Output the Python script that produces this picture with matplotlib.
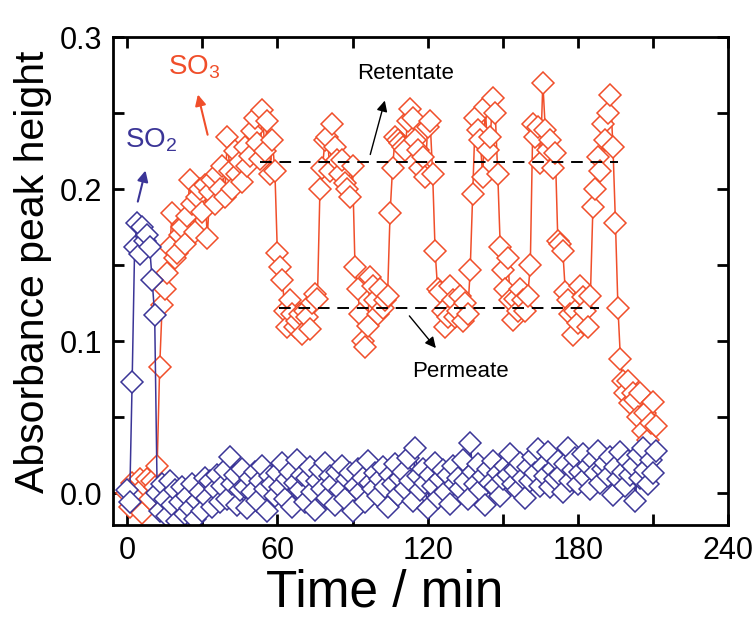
import numpy as np
import matplotlib
matplotlib.use("Agg")
import matplotlib.pyplot as plt

plt.rcParams['font.family'] = ['Liberation Sans', 'DejaVu Sans']
plt.rcParams['mathtext.default'] = 'regular'

# absorbance peak heights, one reading per minute
so3_abs = [
    0.000, -0.009, 0.007, 0.002, -0.003, 0.009, -0.013, 0.005, 0.009, -0.004,
    0.008, 0.004, 0.018, 0.083, 0.124, 0.134, 0.145, 0.162, 0.184, 0.155,
    0.158, 0.170, 0.175, 0.164, 0.182, 0.206, 0.190, 0.172, 0.195, 0.200,
    0.185, 0.203, 0.168, 0.198, 0.206, 0.190, 0.210, 0.200, 0.215, 0.195,
    0.234, 0.212, 0.200, 0.225, 0.210, 0.218, 0.205, 0.228, 0.215, 0.222,
    0.238, 0.247, 0.230, 0.220, 0.252, 0.225, 0.245, 0.210, 0.232, 0.212,
    0.158, 0.149, 0.140, 0.120, 0.109, 0.127, 0.118, 0.109, 0.113, 0.118,
    0.105, 0.120, 0.116, 0.108, 0.125, 0.131, 0.128, 0.200, 0.214, 0.232,
    0.234, 0.212, 0.243, 0.228, 0.219, 0.210, 0.219, 0.204, 0.200, 0.195,
    0.215, 0.149, 0.134, 0.118, 0.100, 0.096, 0.110, 0.142, 0.136, 0.127,
    0.118, 0.134, 0.122, 0.127, 0.130, 0.184, 0.214, 0.234, 0.232, 0.230,
    0.228, 0.226, 0.245, 0.253, 0.247, 0.232, 0.226, 0.214, 0.221, 0.208,
    0.241, 0.245, 0.210, 0.159, 0.134, 0.132, 0.120, 0.109, 0.116, 0.136,
    0.127, 0.116, 0.120, 0.130, 0.113, 0.125, 0.118, 0.147, 0.197, 0.247,
    0.239, 0.232, 0.208, 0.254, 0.226, 0.234, 0.260, 0.250, 0.210, 0.162,
    0.147, 0.134, 0.155, 0.127, 0.114, 0.128, 0.120, 0.134, 0.127, 0.120,
    0.130, 0.150, 0.243, 0.234, 0.241, 0.217, 0.270, 0.239, 0.226, 0.232,
    0.214, 0.224, 0.166, 0.164, 0.159, 0.132, 0.127, 0.118, 0.104, 0.120,
    0.112, 0.136, 0.129, 0.120, 0.109, 0.130, 0.188, 0.200, 0.221, 0.212,
    0.243, 0.232, 0.250, 0.262, 0.228, 0.178, 0.122, 0.088, 0.074, 0.066,
    0.074, 0.059, 0.066, 0.061, 0.050, 0.066, 0.041, 0.053, 0.035, 0.046,
    0.060, 0.044,
]

so2_abs = [
    0.002, -0.006, 0.073, 0.162, 0.178, 0.157, 0.175, 0.166, 0.170, 0.162,
    0.140, 0.117,
    0.000, -0.012, 0.006, -0.004, -0.015, 0.008, -0.008, 0.002, -0.018, -0.006,
    0.004, -0.014, -0.002, -0.010, 0.006, -0.017, -0.005, 0.001, -0.012, 0.010,
    -0.003, 0.008, -0.009, 0.003, 0.012, -0.006, 0.005, 0.015, -0.004, 0.024,
    0.006, 0.012, -0.008, 0.002, 0.016, 0.004, -0.010, 0.010, 0.001, 0.014,
    -0.005, 0.008, 0.018, 0.003, -0.012, 0.011, 0.006, -0.002, 0.013, 0.004,
    0.020, -0.004, 0.009, 0.014, -0.009, 0.007, 0.022, 0.002, 0.012, -0.006,
    0.010, 0.017, 0.001, -0.011, 0.008, 0.015, 0.003, 0.020, -0.003, 0.011,
    0.006, -0.008, 0.014, 0.002, 0.018, -0.004, 0.009, 0.013, -0.012, 0.005,
    0.016, 0.001, 0.010, -0.006, 0.021, 0.007, 0.003, 0.013, -0.002, 0.009,
    0.017, 0.004, -0.009, 0.012, 0.006, 0.019, -0.001, 0.010, 0.014, 0.003,
    0.023, 0.008, -0.005, 0.030, 0.011, 0.002, 0.016, 0.007, -0.010, 0.012,
    0.005, 0.020, -0.003, 0.009, 0.015, 0.001, 0.012, -0.007, 0.018, 0.006,
    0.010, 0.003, 0.022, 0.008, -0.004, 0.033, 0.014, 0.006, 0.019, 0.002,
    0.011, -0.008, 0.016, 0.007, 0.021, 0.004, 0.013, -0.002, 0.009, 0.018,
    0.012, 0.026, 0.006, 0.015, 0.002, 0.020, 0.010, -0.003, 0.017, 0.008,
    0.024, 0.013, 0.029, 0.005, 0.018, 0.011, 0.027, 0.004, 0.016, 0.009,
    0.021, 0.012, 0.001, 0.019, 0.030, 0.008, 0.015, 0.023, 0.006, 0.014,
    0.026, 0.010, 0.018, 0.003, 0.022, 0.013, 0.028, 0.007, 0.016, 0.020,
    0.011, 0.024, -0.001, 0.017, 0.009, 0.027, 0.014, 0.005, 0.021, 0.012,
    0.018, -0.005, 0.025, 0.010, 0.030, 0.015, 0.006, 0.022, 0.013, 0.028,
]

t_so3 = np.arange(len(so3_abs))
t_so2 = np.arange(len(so2_abs))

retentate_level = 0.218
retentate_span = [53, 196]
permeate_level = 0.122
permeate_span = [60.5, 188.5]

red = '#F04E2A'
blue = '#3B3597'

fig = plt.figure(figsize=(7.54, 6.17), dpi=100)
ax = fig.add_axes([0.150, 0.149, 0.8157, 0.7909])

ax.plot(t_so3, so3_abs, '-D', color=red, lw=1.1, ms=11, mew=1.1, mfc='white', mec=red)
ax.plot(t_so2, so2_abs, '-D', color=blue, lw=1.1, ms=11, mew=1.1, mfc='white', mec=blue)

ax.plot(retentate_span, [retentate_level] * 2, '--', color='black', lw=1.4, dashes=(6, 4))
ax.plot(permeate_span, [permeate_level] * 2, '--', color='black', lw=1.4, dashes=(6, 4))

arrow_k = dict(arrowstyle='-|>', color='black', lw=1.0, mutation_scale=16)
ax.annotate('', xy=(103.2, 0.260), xytext=(96.8, 0.221), arrowprops=arrow_k)
ax.text(111, 0.276, 'Retentate', ha='center', va='center', fontsize=16)
ax.annotate('', xy=(124, 0.094), xytext=(112, 0.118), arrowprops=arrow_k)
ax.text(133, 0.080, 'Permeate', ha='center', va='center', fontsize=16)

ax.annotate('', xy=(28, 0.264), xytext=(32.4, 0.234),
            arrowprops=dict(arrowstyle='-|>', color=red, lw=1.5, mutation_scale=16))
ax.text(16.5, 0.280, 'SO$_3$', ha='left', va='center', fontsize=20, color=red)
ax.annotate('', xy=(7.6, 0.214), xytext=(4, 0.190),
            arrowprops=dict(arrowstyle='-|>', color=blue, lw=1.5, mutation_scale=16))
ax.text(-0.8, 0.232, 'SO$_2$', ha='left', va='center', fontsize=20, color=blue)

ax.set_xlim(-5.6, 240)
ax.set_ylim(-0.021, 0.3)
ax.set_xticks([0, 60, 120, 180, 240])
ax.set_xticks([30, 90, 150, 210], minor=True)
ax.set_yticks([0.0, 0.1, 0.2, 0.3])
ax.set_yticks([0.05, 0.15, 0.25], minor=True)
ax.set_yticklabels(['0.0', '0.1', '0.2', '0.3'])

ax.tick_params(which='both', direction='in', top=True, right=True, width=2, length=8)
ax.tick_params(which='major', labelsize=22, pad=8)
for s in ax.spines.values():
    s.set_linewidth(2)

ax.set_xlabel('Time / min', fontsize=37)
ax.xaxis.set_label_coords(0.442, -0.09)
ax.set_ylabel('Absorbance peak height', fontsize=29.5)
ax.yaxis.set_label_coords(-0.10, 0.52)

fig.savefig('out.png', dpi=100)
